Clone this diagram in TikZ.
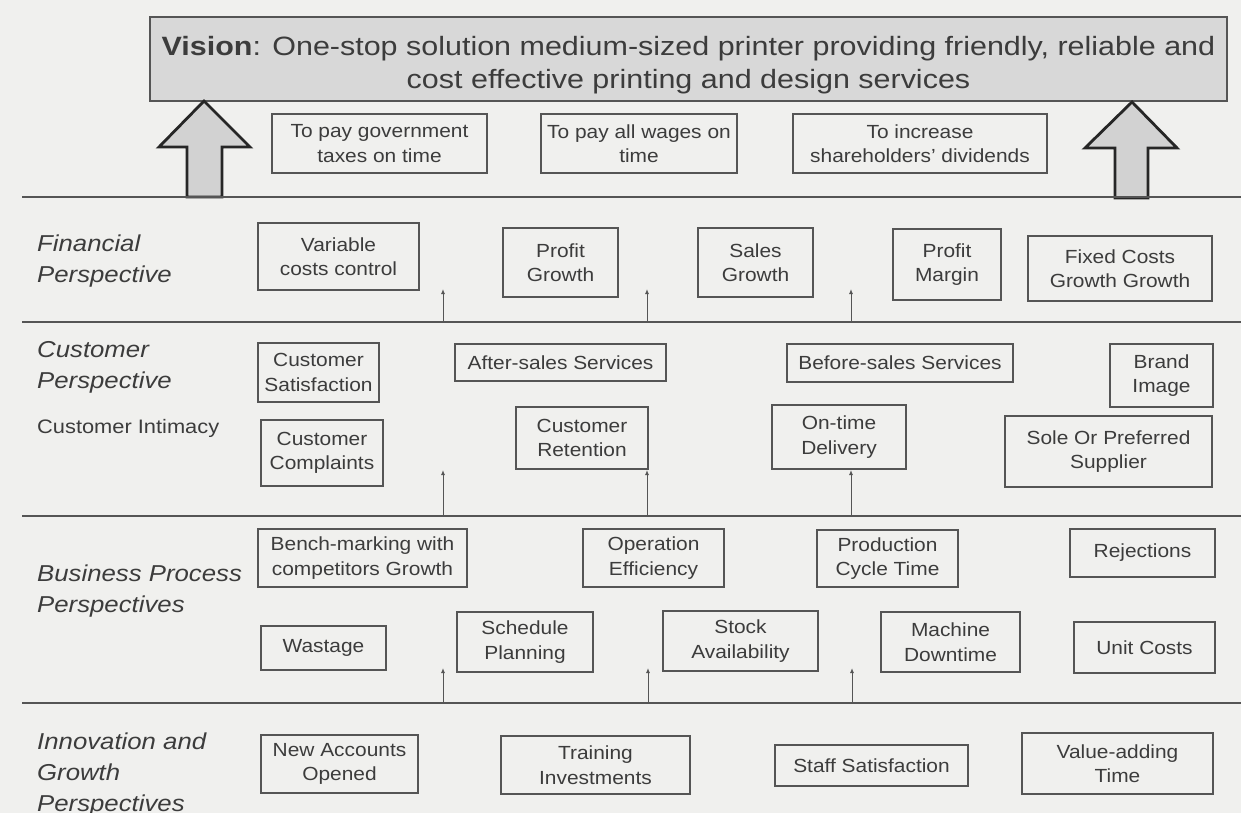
\documentclass[tikz,border=0pt]{standalone}
\usepackage{fontspec}
\setmainfont{Liberation Sans}[FakeStretch=1.1]
\newfontfamily\labfont{Liberation Sans}[FakeStretch=1.12]
\newfontfamily\visfont{Liberation Sans}[FakeStretch=1.15]
\usetikzlibrary{arrows.meta}
\definecolor{bgc}{HTML}{F0F0EE}
\definecolor{txt}{HTML}{3C3C3C}
\definecolor{edge}{HTML}{555555}
\definecolor{visfill}{HTML}{D8D8D8}
\definecolor{arrfill}{HTML}{D2D2D2}
\tikzset{
  box/.style={draw=edge, line width=1.5pt, align=center, inner sep=0pt, text=txt,
    font=\fontsize{19}{24.5}\selectfont},
  persp/.style={anchor=west, align=left, inner sep=0pt, text=txt,
    font=\labfont\fontsize{23}{31}\selectfont\itshape},
  sep/.style={draw=edge, line width=1.5pt},
  uparrow/.style={draw=edge, line width=1pt, -{Latex[length=5pt,width=4pt]}},
  bigarrow/.style={draw=black!85, line width=2.8pt, fill=arrfill, line join=miter}
}
\begin{document}
\begin{tikzpicture}[x=1pt,y=-1pt]
\fill[bgc] (0,0) rectangle (1241,813);
\useasboundingbox (0,0) rectangle (1241,813);

% Vision
\node[draw=edge, line width=1.5pt, fill=visfill, minimum width=1077pt, minimum height=84pt,
  inner sep=0pt] (vision) at (688.5,59) {};
\node[align=center, inner sep=0pt, text=txt, font=\visfont\fontsize{26.5}{33}\selectfont] (vistext) at (688.5,65)
  {\textbf{Vision}: One-stop solution medium-sized printer providing friendly, reliable and\\cost effective printing and design services};

% big arrows
\draw[bigarrow] (204,101) -- (250,147) -- (222,147) -- (222,197) -- (187,197) -- (187,147) -- (159,147) -- cycle;
\draw[bigarrow] (1132,102) -- (1177,148) -- (1148,148) -- (1148,198) -- (1115,198) -- (1115,148) -- (1085,148) -- cycle;

% top row
\node[box, minimum width=215pt, minimum height=59pt] (tax) at (379.5,143.5) {To pay government\\taxes on time};
\node[box, minimum width=196pt, minimum height=59pt] (wages) at (639,143.5) {To pay all wages on\\time};
\node[box, minimum width=254pt, minimum height=59pt] (div) at (920,143.5) {To increase\\shareholders' dividends};

% separators
\coordinate (s1l) at (22,197); \coordinate (s1r) at (1241,197);
\coordinate (s2l) at (22,322); \coordinate (s2r) at (1241,322);
\coordinate (s3l) at (22,516); \coordinate (s3r) at (1241,516);
\coordinate (s4l) at (22,703); \coordinate (s4r) at (1241,703);
\draw[sep] (s1l) -- (s1r);
\draw[sep] (s2l) -- (s2r);
\draw[sep] (s3l) -- (s3r);
\draw[sep] (s4l) -- (s4r);

% labels
\node[persp] (lfin) at (37,261) {Financial\\Perspective};
\node[persp] (lcus) at (37,367) {Customer\\Perspective};
\node[anchor=west, inner sep=0pt, text=txt, font=\labfont\fontsize{19.5}{24}\selectfont] (lint) at (37,428) {Customer Intimacy};
\node[persp] (lbus) at (37,591) {Business Process\\Perspectives};
\node[persp] (linn) at (37,775) {Innovation and\\Growth\\Perspectives};

% financial
\node[box, minimum width=161pt, minimum height=67pt] (vc) at (338.5,256.5) {Variable\\costs control};
\node[box, minimum width=115pt, minimum height=69pt] (pg) at (560.5,262.5) {Profit\\Growth};
\node[box, minimum width=115pt, minimum height=69pt] (sg) at (755.5,262.5) {Sales\\Growth};
\node[box, minimum width=108pt, minimum height=71pt] (pm) at (947,264.5) {Profit\\Margin};
\node[box, minimum width=184pt, minimum height=65pt] (fc) at (1120,268.5) {Fixed Costs\\Growth Growth};

% customer
\node[box, minimum width=121pt, minimum height=59pt] (cs) at (318.5,372.5) {Customer\\Satisfaction};
\node[box, minimum width=211pt, minimum height=37pt] (as) at (560.5,362.5) {After-sales Services};
\node[box, minimum width=226pt, minimum height=38pt] (bs) at (900,363) {Before-sales Services};
\node[box, minimum width=103pt, minimum height=63pt] (bi) at (1161.5,375.5) {Brand\\Image};
\node[box, minimum width=122pt, minimum height=66pt] (cc) at (322,453) {Customer\\Complaints};
\node[box, minimum width=132pt, minimum height=62pt] (cr) at (582,438) {Customer\\Retention};
\node[box, minimum width=134pt, minimum height=64pt] (od) at (839,437) {On-time\\Delivery};
\node[box, minimum width=207pt, minimum height=71pt] (sp) at (1108.5,451.5) {Sole Or Preferred\\Supplier};

% business
\node[box, minimum width=209pt, minimum height=58pt] (bm) at (362.5,558) {Bench-marking with\\competitors Growth};
\node[box, minimum width=141pt, minimum height=58pt] (oe) at (653.5,558) {Operation\\Efficiency};
\node[box, minimum width=141pt, minimum height=57pt] (pc) at (887.5,558.5) {Production\\Cycle Time};
\node[box, minimum width=145pt, minimum height=48pt] (rj) at (1142.5,553) {Rejections};
\node[box, minimum width=125pt, minimum height=44pt] (ws) at (323.5,648) {Wastage};
\node[box, minimum width=136pt, minimum height=60pt] (sch) at (525,642) {Schedule\\Planning};
\node[box, minimum width=155pt, minimum height=60pt] (st) at (740.5,641) {Stock\\Availability};
\node[box, minimum width=139pt, minimum height=60pt] (md) at (950.5,642) {Machine\\Downtime};
\node[box, minimum width=141pt, minimum height=51pt] (uc) at (1144.5,647.5) {Unit Costs};

% innovation
\node[box, minimum width=157pt, minimum height=58pt] (na) at (339.5,764) {New Accounts\\Opened};
\node[box, minimum width=189pt, minimum height=58pt] (ti) at (595.5,765) {Training\\Investments};
\node[box, minimum width=193pt, minimum height=41pt] (ss) at (871.5,765.5) {Staff Satisfaction};
\node[box, minimum width=191pt, minimum height=61pt] (va) at (1117.5,763.5) {Value-adding\\Time};

% small arrows
\foreach \x/\n in {443/a,647/b,851/c}{
  \coordinate (f\n0) at (\x,322); \coordinate (f\n1) at (\x,289);
  \draw[uparrow] (f\n0) -- (f\n1);
  \coordinate (c\n0) at (\x,516); \coordinate (c\n1) at (\x,470);
  \draw[uparrow] (c\n0) -- (c\n1);
}
\foreach \x/\n in {443/a,648/b,852/c}{
  \coordinate (b\n0) at (\x,703); \coordinate (b\n1) at (\x,668);
  \draw[uparrow] (b\n0) -- (b\n1);
}
\end{tikzpicture}
\end{document}
